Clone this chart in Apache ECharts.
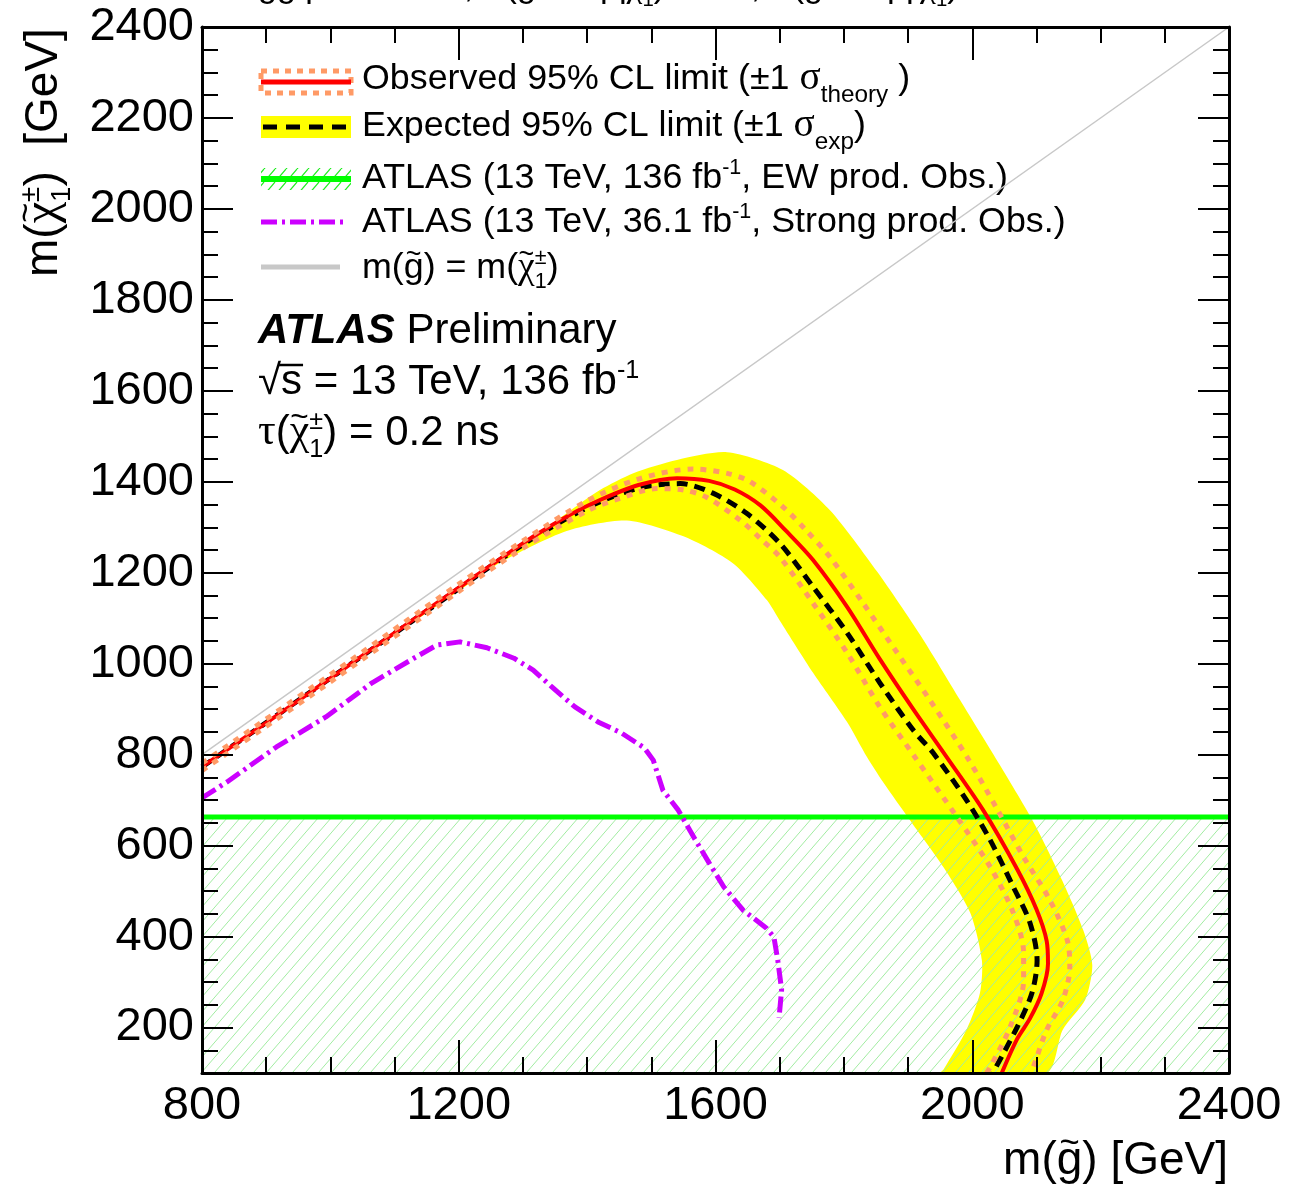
<!DOCTYPE html>
<html>
<head>
<meta charset="utf-8">
<script src="https://cdn.jsdelivr.net/npm/echarts@6/dist/echarts.min.js"></script>
<style>
  html, body { margin: 0; padding: 0; background: #fff; }
  #chart { width: 1289px; height: 1197px; }
</style>
</head>
<body>
<div id="chart"></div>
<script>
// ---- Exclusion contours in the m(gluino) - m(chargino) plane, points are [m(g~), m(chi1+-)] in GeV ----
const observedLimit = [[800,773],[900,870],[1000,968],[1100,1068],[1200,1167],[1264,1230],[1320,1283],[1370,1325],[1420,1360],[1480,1393],[1540,1408],[1590,1402],[1630,1383],[1670,1348],[1710,1292],[1752,1228],[1805,1125],[1856,1010],[1908,900],[1961,793],[2017,678],[2070,548],[2100,460],[2116,390],[2118,340],[2108,275],[2090,220],[2070,175],[2046,100]];
const expectedLimit = [[800,773],[1000,968],[1200,1165],[1300,1262],[1400,1343],[1480,1386],[1545,1396],[1596,1375],[1649,1330],[1700,1265],[1752,1169],[1805,1068],[1856,958],[1908,854],[1939,804],[1991,700],[2028,612],[2064,509],[2090,430],[2101,348],[2093,276],[2070,201],[2032,100]];
const theoryUp = [[800,781],[1000,976],[1200,1175],[1300,1270],[1400,1358],[1480,1406],[1565,1428],[1620,1418],[1654,1400],[1705,1345],[1740,1295],[1778,1235],[1830,1133],[1883,1024],[1934,920],[1994,790],[2038,682],[2080,575],[2121,480],[2148,392],[2152,333],[2141,260],[2116,195],[2095,113],[2090,100]];
const theoryDown = [[800,765],[1000,960],[1200,1159],[1300,1254],[1400,1336],[1450,1363],[1508,1385],[1550,1382],[1586,1366],[1638,1316],[1670,1275],[1700,1235],[1752,1133],[1805,1024],[1856,905],[1908,800],[1976,663],[2028,553],[2064,452],[2080,364],[2080,304],[2059,201],[2028,113],[2022,100]];
const expBandUpper = [[800,773],[1000,968],[1200,1167],[1264,1232],[1316,1279],[1368,1331],[1420,1382],[1472,1419],[1540,1448],[1618,1465],[1705,1426],[1778,1338],[1852,1202],[1919,1063],[1981,920],[2043,777],[2098,645],[2140,524],[2173,414],[2187,337],[2176,261],[2141,195],[2116,100]];
const expBandLower = [[800,773],[1000,966],[1200,1160],[1264,1222],[1368,1292],[1462,1315],[1550,1280],[1627,1221],[1680,1140],[1700,1095],[1752,980],[1805,872],[1836,795],[1861,740],[1903,656],[1955,553],[1997,452],[2015,348],[2012,276],[1991,195],[1955,107],[1950,100]];
// previous results
const ewProdLimit = 663;   // EW production, 136 fb-1: excluded below this chargino mass
const strongProd36 = [[800,705],[839,740],[916,817],[993,883],[1065,958],[1130,1012],[1166,1041],[1202,1048],[1244,1035],[1286,1012],[1316,986],[1345,949],[1381,905],[1417,872],[1453,848],[1489,815],[1503,788],[1518,722],[1542,678],[1566,619],[1590,562],[1613,509],[1643,458],[1679,419],[1691,399],[1697,348],[1703,283],[1699,221]];
const diagonal = [[800,800],[2400,2400]];
// axes
const xRange = [800, 2400];
const yRange = [100, 2400];
const yMajorTicks = [200,400,600,800,1000,1200,1400,1600,1800,2000,2200,2400];

const SANS = "'Liberation Sans', Arial, Helvetica, sans-serif";
const SERIF = "'Liberation Serif', 'DejaVu Serif', 'Times New Roman', serif";
const C = { yellow:'#ffff00', red:'#ff0000', theory:'#ff9a66', green:'#00ff00', hatch:'#a2eca2', purple:'#cc00ff', gray:'#c8c8c8' };

// ---- small text layout helper (super/subscripts, stacked indices, accents) ----
const mctx = document.createElement('canvas').getContext('2d');
function fontOf(p) { return (p.italic ? 'italic ' : '') + (p.bold ? 'bold ' : '') + p.size.toFixed(1) + 'px ' + p.family; }
function measure(p) { mctx.font = fontOf(p); return mctx.measureText(p.t).width; }
function textRun(pieces, x0, base, size, align) {
  const placed = [];
  let x = 0, prev = null;
  pieces.forEach(raw => {
    const p = Object.assign({ family: SANS, dy: 0, dx: 0, rel: 1 }, typeof raw === 'string' ? { t: raw } : raw);
    p.size = size * p.rel;
    const w = measure(p);
    let left;
    if (p.accent && prev) left = prev.left + (prev.w - w) / 2 + p.dx * size;
    else if (p.stack && prev) left = prev.left + p.dx * size;
    else left = x + p.dx * size;
    placed.push({ p, left, w });
    if (p.accent) return;
    x = p.stack ? Math.max(x, left + w) : left + w;
    prev = { left, w };
  });
  const shift = align === 'right' ? x0 - x : x0;
  const els = placed.map(({ p, left }) => ({
    type: 'text', silent: true, x: left + shift, y: base + p.dy * size - 0.3465 * p.size,
    style: { text: p.t, font: fontOf(p), fill: '#000', align: 'left', verticalAlign: 'middle', textAlign: 'left', textVerticalAlign: 'middle' }
  }));
  return { els, placed, shift };
}
const tilde = { t: '~', rel: 0.75, dy: -0.44, accent: true };
const sup = t => ({ t, rel: 0.6, dy: -0.42 });
const subStack = t => ({ t, rel: 0.6, dy: 0.25, stack: true });
const chi = { t: 'χ', family: SERIF, rel: 1.05 };

function hatchPattern(color, w, h, lw) {
  const c = document.createElement('canvas');
  c.width = w; c.height = h;
  const g = c.getContext('2d');
  g.strokeStyle = color; g.lineWidth = lw;
  g.beginPath();
  [-w, 0, w].forEach(o => { g.moveTo(o, h); g.lineTo(o + w, 0); });
  g.stroke();
  return { image: c, repeat: 'repeat' };
}

// ---- graphic overlays: legend, labels, axis titles ----
const graphics = [];
const push = r => r.els.forEach(e => graphics.push(e));

// header line (runs off the top edge)
push(textRun(['g', tilde, 'g', tilde, ' production, B(', 'g', tilde, ' → qq', { t: '¯', rel: 0.8, dy: -0.5, accent: true }, chi, tilde, sup('0'), subStack('1'),
  ') = 1/3, B(', 'g', tilde, " → qq", { t: '¯', rel: 0.8, dy: -0.5, accent: true }, "'", chi, tilde, sup('±'), subStack('1'), ') = 2/3'], 258, -1, 34));

// legend symbols
graphics.push(
  { type: 'rect', silent: true, shape: { x: 261, y: 71, width: 90, height: 22 }, style: { fill: null, stroke: C.theory, lineWidth: 5, lineDash: [6, 6] } },
  { type: 'line', silent: true, shape: { x1: 261, y1: 82, x2: 351, y2: 82 }, style: { stroke: C.red, lineWidth: 5 } },
  { type: 'rect', silent: true, shape: { x: 261, y: 116, width: 90, height: 22 }, style: { fill: C.yellow } },
  { type: 'line', silent: true, shape: { x1: 263, y1: 127, x2: 351, y2: 127 }, style: { stroke: '#000', lineWidth: 5, lineDash: [14, 9] } },
  { type: 'rect', silent: true, shape: { x: 261, y: 168, width: 90, height: 22 }, style: { fill: hatchPattern('#22ee22', 11, 13, 1.2) } },
  { type: 'line', silent: true, shape: { x1: 261, y1: 179, x2: 351, y2: 179 }, style: { stroke: C.green, lineWidth: 6 } },
  { type: 'line', silent: true, shape: { x1: 261, y1: 222, x2: 343, y2: 222 }, style: { stroke: C.purple, lineWidth: 5, lineDash: [16, 5, 3, 5] } },
  { type: 'line', silent: true, shape: { x1: 261, y1: 267, x2: 340, y2: 267 }, style: { stroke: C.gray, lineWidth: 5 } }
);
const sigma = { t: 'σ', family: SERIF, rel: 1.1 };
const LG = 35.8;
push(textRun(['Observed 95% CL limit (±1 ', sigma, { t: 'theory', rel: 0.68, dy: 0.32 }, ' )'], 362, 92, LG));
push(textRun(['Expected 95% CL limit (±1 ', sigma, { t: 'exp', rel: 0.68, dy: 0.32 }, ')'], 362, 139, LG));
push(textRun(['ATLAS (13 TeV, 136 fb', sup('-1'), ', EW prod. Obs.)'], 362, 191, LG));
push(textRun(['ATLAS (13 TeV, 36.1 fb', sup('-1'), ', Strong prod. Obs.)'], 362, 235, LG));
push(textRun(['m(', 'g', tilde, ') = m(', chi, tilde, sup('±'), subStack('1'), ')'], 362, 281, LG));

// experiment label
const AL = 42;
push(textRun([{ t: 'ATLAS', bold: true, italic: true }, ' Preliminary'], 258, 346, AL));
const sq = textRun(['√', 's = 13 TeV, 136 fb', sup('-1')], 258, 397, AL);
push(sq);
{
  const r = sq.placed[0], s = sq.placed[1];
  const sW = measure({ t: 's', size: AL, family: SANS });
  graphics.push({ type: 'line', silent: true, shape: { x1: sq.shift + r.left + r.w - 2, y1: 397 - 32, x2: sq.shift + s.left + sW + 1, y2: 397 - 32 }, style: { stroke: '#000', lineWidth: 2.5 } });
}
push(textRun([{ t: 'τ', family: SERIF, rel: 1.05 }, '(', chi, tilde, sup('±'), subStack('1'), ') = 0.2 ns'], 258, 448, AL));

// axis titles
push(textRun(['m(', 'g', tilde, ') [GeV]'], 1228, 1177, 46, 'right'));
graphics.push({ type: 'group', x: 60, y: 277, rotation: Math.PI / 2, children: textRun(['m(', chi, tilde, sup('±'), subStack('1'), ')  [GeV]'], 0, 0, 46).els });

// ---- chart ----
const axisLine = { show: true, onZero: false, lineStyle: { color: '#000', width: 3 } };
const tickStyle = { color: '#000', width: 2 };
const tickLabel = { color: '#000', fontFamily: SANS, fontSize: 47, formatter: v => String(v) };

function xAx(pos, labels) {
  return {
    type: 'value', position: pos, min: xRange[0], max: xRange[1], interval: 400, z: 10,
    axisLine, splitLine: { show: false }, minorSplitLine: { show: false },
    axisTick: { show: true, inside: true, length: 33, lineStyle: tickStyle },
    minorTick: { show: true, splitNumber: 4, length: 16, lineStyle: tickStyle },
    axisLabel: labels ? Object.assign({ margin: 10 }, tickLabel) : { show: false }
  };
}
function yMajor(pos, labels) {
  return {
    type: 'value', position: pos, min: yRange[0], max: yRange[1], z: 10,
    axisLine, splitLine: { show: false },
    axisTick: { show: true, inside: true, length: 31, customValues: yMajorTicks, lineStyle: tickStyle },
    axisLabel: labels ? Object.assign({ margin: 8, customValues: yMajorTicks }, tickLabel) : { show: false }
  };
}
function yMinor(pos) {
  return {
    type: 'value', position: pos, min: yRange[0], max: yRange[1], interval: 50, z: 10,
    axisLine: { show: false }, splitLine: { show: false },
    axisTick: { show: true, inside: true, length: 16, lineStyle: tickStyle },
    axisLabel: { show: false }
  };
}
function polygonSeries(pts, style, z, smooth) {
  return {
    type: 'custom', coordinateSystem: 'cartesian2d', xAxisIndex: 0, yAxisIndex: 0, clip: true, silent: true, z,
    data: [pts[0]],
    renderItem: (params, api) => ({
      type: 'polygon',
      shape: { points: pts.map(p => api.coord(p)), smooth: smooth || 0 },
      style
    })
  };
}
function lineSeries(name, data, color, width, type, z, smooth) {
  return {
    name, type: 'line', data, xAxisIndex: 0, yAxisIndex: 0, z, symbol: 'none', silent: true,
    smooth: smooth === undefined ? 0.3 : smooth, clip: true,
    lineStyle: { color, width, type: type || 'solid', cap: 'butt', join: 'round' }
  };
}

const bandPolygon = expBandUpper.concat(expBandLower.slice(1).reverse());
const ewRegion = [[xRange[0], yRange[0]], [xRange[1], yRange[0]], [xRange[1], ewProdLimit], [xRange[0], ewProdLimit]];

const chart = echarts.init(document.getElementById('chart'), null, { renderer: 'canvas' });
chart.setOption({
  animation: false,
  backgroundColor: '#fff',
  grid: { left: 202, top: 27, width: 1027, height: 1046, containLabel: false, outerBoundsMode: 'none' },
  xAxis: [xAx('bottom', true), xAx('top', false)],
  yAxis: [yMajor('left', true), yMinor('left'), yMajor('right', false), yMinor('right')],
  series: [
    polygonSeries(bandPolygon, { fill: C.yellow }, 1, 0.25),
    polygonSeries(ewRegion, { fill: hatchPattern(C.hatch, 13, 15, 1) }, 2, 0),
    lineSeries('EW 136', [[xRange[0], ewProdLimit], [xRange[1], ewProdLimit]], C.green, 5, 'solid', 3, false),
    lineSeries('diagonal', diagonal, C.gray, 1.5, 'solid', 3, false),
    lineSeries('Strong 36.1', strongProd36, C.purple, 5, [16, 5, 3, 5], 4, false),
    lineSeries('Expected', expectedLimit, '#000', 5, [11, 7], 5),
    lineSeries('Observed', observedLimit, C.red, 4, 'solid', 6),
    lineSeries('Observed +1 sigma', theoryUp, C.theory, 5, [6, 7], 7),
    lineSeries('Observed -1 sigma', theoryDown, C.theory, 5, [6, 7], 7)
  ],
  graphic: { elements: graphics }
});
</script>
</body>
</html>
